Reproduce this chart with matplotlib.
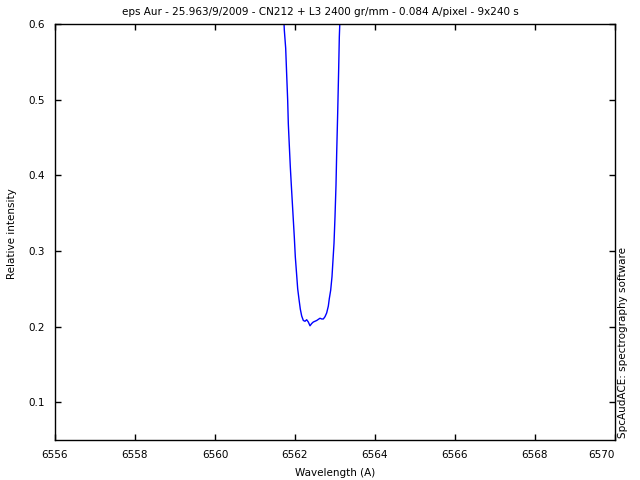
import matplotlib
matplotlib.use("Agg")
import matplotlib.pyplot as plt

# spectrum around H-alpha (only the part visible in the 0.05-0.6 window)
wavelength = [6561.70, 6561.733, 6561.767, 6561.792, 6561.817, 6561.833, 6561.858,
              6561.883, 6561.908, 6561.933, 6561.958, 6561.983, 6562.008, 6562.042,
              6562.067, 6562.100, 6562.133, 6562.167, 6562.208, 6562.250, 6562.292,
              6562.333, 6562.375, 6562.417, 6562.458, 6562.542, 6562.625, 6562.667,
              6562.708, 6562.750, 6562.792, 6562.833, 6562.858, 6562.892, 6562.925,
              6562.950, 6562.975, 6563.000, 6563.025, 6563.042, 6563.067, 6563.092,
              6563.108, 6563.140]
intensity = [0.630, 0.592, 0.568, 0.533, 0.499, 0.468, 0.439,
             0.411, 0.387, 0.364, 0.341, 0.318, 0.292, 0.268,
             0.250, 0.236, 0.223, 0.214, 0.208, 0.207, 0.209,
             0.206, 0.201, 0.204, 0.206, 0.208, 0.211, 0.210,
             0.210, 0.213, 0.218, 0.227, 0.237, 0.248, 0.266,
             0.288, 0.310, 0.345, 0.387, 0.429, 0.482, 0.541,
             0.583, 0.630]

xticks = [6556, 6558, 6560, 6562, 6564, 6566, 6568, 6570]
yticks = [0.1, 0.2, 0.3, 0.4, 0.5, 0.6]

plt.rcParams['font.family'] = 'DejaVu Sans'
plt.rcParams['font.size'] = 7.5

fig = plt.figure(figsize=(6.4, 4.8), dpi=100)
ax = fig.add_axes([55/640, 40/480, 560/640, 416/480])

ax.plot(wavelength, intensity, color='#0000ff', lw=1.0)
ax.set_xlim(6556, 6570)
ax.set_ylim(0.05, 0.6)
ax.set_xticks(xticks)
ax.set_yticks(yticks)
ax.set_xticklabels([str(t) for t in xticks])
ax.set_yticklabels(['%.1f' % t for t in yticks])
ax.tick_params(direction='in', length=4.5, width=1, top=True, right=True, pad=7)
# last x label sits a little left of its tick, as in the reference
ax.get_xticklabels()[-1].set_horizontalalignment('right')
ax.get_xticklabels()[-1].set_x(6570)
for s in ax.spines.values():
    s.set_linewidth(1)

ax.set_xlabel('Wavelength (A)', labelpad=6)
fig.text(12/640, 1 - 234/480, 'Relative intensity', rotation=90, ha='center', va='center')
fig.text(0.5, 1 - 12/480, 'eps Aur - 25.963/9/2009 - CN212 + L3 2400 gr/mm - 0.084 A/pixel - 9x240 s',
         ha='center', va='center')
fig.text(623/640, 1 - 438/480, 'SpcAudACE: spectrography software',
         rotation=90, ha='center', va='bottom')

fig.savefig('out.png', dpi=100)
